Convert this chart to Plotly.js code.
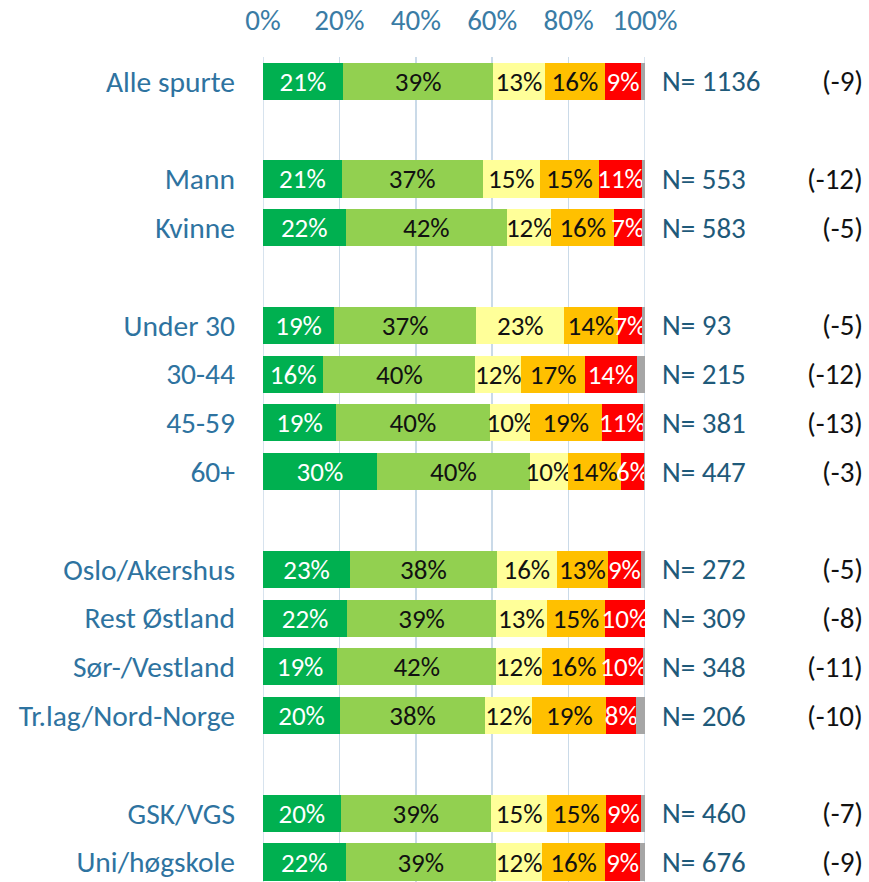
<!DOCTYPE html>
<html>
<head>
<meta charset="utf-8">
<script src="https://cdn.plot.ly/plotly-3.0.1.min.js"></script>
<style>html,body{margin:0;padding:0;background:#fff;}#chart{width:869px;height:882px;}</style>
</head>
<body>
<div id="chart"></div>
<script>
const categories = ["Alle spurte","Mann","Kvinne","Under 30","30-44","45-59","60+","Oslo/Akershus","Rest Østland","Sør-/Vestland","Tr.lag/Nord-Norge","GSK/VGS","Uni/høgskole"];
const groupOf = [0,1,1,2,2,2,2,3,3,3,3,4,4];
const veryGood = [20.9,20.6,21.6,18.6,15.8,19.1,29.8,22.8,22.0,19.4,20.2,20.3,21.6];
const good     = [39.4,36.9,42.3,37.2,39.8,40.3,40.1,38.4,39.0,41.7,37.9,39.4,39.4];
const neutral  = [13.4,15.0,11.6,23.1,12.0,10.4,9.9,15.7,13.3,11.9,12.4,14.7,12.1];
const bad      = [15.9,15.4,16.4,13.9,16.7,18.9,13.9,13.4,15.3,16.4,19.4,15.3,16.4];
const veryBad  = [9.3,11.4,7.2,6.5,13.6,10.7,6.1,8.6,10.3,10.0,7.8,9.3,9.3];
const nValues  = [1136,553,583,93,215,381,447,272,309,348,206,460,676];
const changes  = ["(-9)","(-12)","(-5)","(-5)","(-12)","(-13)","(-3)","(-5)","(-8)","(-11)","(-10)","(-7)","(-9)"];
const xTicks = [0,20,40,60,80,100];

const other = categories.map((c,i)=>Math.max(0, 100 - veryGood[i]-good[i]-neutral[i]-bad[i]-veryBad[i]));

// category order with blank spacer rows between groups
const catOrder = [];
let sp = 0;
categories.forEach((c,i)=>{
  if (i>0 && groupOf[i]!==groupOf[i-1]) { sp++; catOrder.push(" ".repeat(sp)); }
  catOrder.push(c);
});

const FONT = "Carlito, Lato, 'Open Sans', sans-serif";
const GRID = '#CADAE8';
function seg(vals, color, textColor, showText) {
  return {
    type:'bar', orientation:'h', y:categories, x:vals,
    marker:{color:color, line:{width:0}},
    text: showText ? vals.map(v=>Math.round(v)+'%') : undefined,
    texttemplate: showText ? '%{text}' : undefined,
    textposition: showText ? 'inside' : 'none',
    insidetextanchor:'middle', textangle:0, constraintext:'none',
    textfont:{family:FONT, size:27, color:textColor},
    hoverinfo:'skip', showlegend:false, cliponaxis:false
  };
}
const data = [
  seg(veryGood,'#00B050','#ffffff',true),
  seg(good,'#92D050','#111111',true),
  seg(neutral,'#FFFF99','#111111',true),
  seg(bad,'#FFC000','#111111',true),
  seg(veryBad,'#FF0000','#ffffff',true),
  seg(other,'#A6A6A6','#111111',false)
];

const annotations = [];
categories.forEach((c,i)=>{
  annotations.push({xref:'paper', yref:'y', x:1.04, y:c, xanchor:'left', yanchor:'middle',
    text:'N= '+nValues[i], showarrow:false, font:{family:FONT, size:29, color:'#1F5A7A'}});
  annotations.push({xref:'paper', yref:'y', x:1.576, y:c, xanchor:'right', yanchor:'middle',
    text:changes[i], showarrow:false, font:{family:FONT, size:29, color:'#111111'}});
});

// edge gridlines (0% and 100%)
const shapes = [xTicks[0], xTicks[xTicks.length-1]].map(v=>({
  type:'line', xref:'x', yref:'paper', x0:v, x1:v, y0:0, y1:1, layer:'below',
  line:{color:GRID, width:1.5}
}));

const layout = {
  width:869, height:882,
  margin:{l:263, r:224, t:57, b:0},
  paper_bgcolor:'#ffffff', plot_bgcolor:'#ffffff',
  barmode:'stack', bargap:0.24,
  font:{family:FONT},
  xaxis:{range:[0,100], side:'top', tickvals:xTicks, ticktext:xTicks.map(v=>v+'%'),
    showgrid:true, gridcolor:GRID, gridwidth:1.5, zeroline:false, showline:false,
    ticks:'', ticklabelstandoff:20, tickfont:{family:FONT, size:29, color:'#3A7CA5'}, fixedrange:true},
  yaxis:{type:'category', categoryorder:'array', categoryarray:catOrder,
    range:[16.41,-0.5], showgrid:false, zeroline:false, showline:false, ticks:'',
    ticklabelstandoff:27, tickfont:{family:FONT, size:29.5, color:'#2E73A0'}, fixedrange:true},
  shapes:shapes,
  annotations:annotations
};
Plotly.newPlot('chart', data, layout, {displayModeBar:false, staticPlot:true});
</script>
</body>
</html>
